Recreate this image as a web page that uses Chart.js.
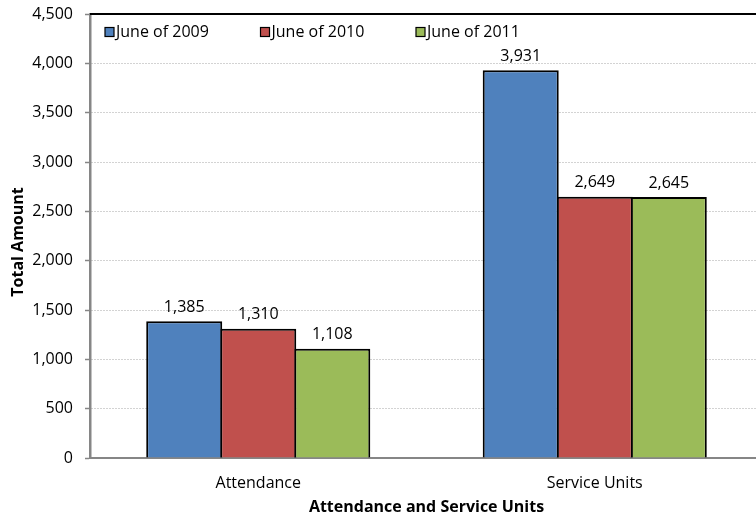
<!DOCTYPE html>
<html>
<head>
<meta charset="utf-8">
<script src="https://cdn.jsdelivr.net/npm/chart.js@4"></script>
<style>
    html, body { margin: 0; padding: 0; overflow: hidden; background: #fff; }
</style>
</head>
<body>
<canvas id="unitsChart" width="763" height="521"></canvas>
<script>
const categories = ['Attendance', 'Service Units'];
const seriesLabels = ['June of 2009', 'June of 2010', 'June of 2011'];
const june2009 = [1385, 3931];
const june2010 = [1310, 2649];
const june2011 = [1108, 2645];
const seriesColors = ['#4F81BD', '#C0504D', '#9BBB59'];
const yTitle = 'Total Amount';

const FONT = 'Open Sans';

// value above each bar
const barValues = {
    id: 'barValues',
    afterDatasetsDraw(chart) {
        const ctx = chart.ctx;
        ctx.save();
        ctx.font = '16px "' + FONT + '"';
        ctx.fillStyle = '#000';
        ctx.textAlign = 'center';
        ctx.textBaseline = 'middle';
        chart.data.datasets.forEach((ds, i) => {
            chart.getDatasetMeta(i).data.forEach((bar, j) => {
                ctx.fillText(ds.data[j].toLocaleString('en-US'), bar.x, bar.y - 14);
            });
        });
        ctx.restore();
    }
};

// top frame line, legend row inside the plot, rotated y title
const frameLegend = {
    id: 'frameLegend',
    afterDraw(chart) {
        const ctx = chart.ctx;
        const area = chart.chartArea;
        ctx.save();
        ctx.strokeStyle = '#000';
        ctx.lineWidth = 2;
        ctx.beginPath();
        ctx.moveTo(area.left, area.top);
        ctx.lineTo(area.right, area.top);
        ctx.stroke();

        ctx.font = '16px "' + FONT + '"';
        ctx.textBaseline = 'middle';
        ctx.textAlign = 'left';
        chart.data.datasets.forEach((ds, i) => {
            const x = area.left + 15 + i * 155.5;
            const y = area.top + 18;
            ctx.fillStyle = ds.backgroundColor;
            ctx.fillRect(x, y - 4.5, 9, 9);
            ctx.lineWidth = 1.2;
            ctx.strokeStyle = '#000';
            ctx.strokeRect(x, y - 4.5, 9, 9);
            ctx.fillStyle = '#000';
            ctx.fillText(ds.label, x + 11, y);
        });

        ctx.translate(18, (area.top + area.bottom) / 2 + 6);
        ctx.rotate(-Math.PI / 2);
        ctx.font = 'bold 16px "' + FONT + '"';
        ctx.textAlign = 'center';
        ctx.fillText(yTitle, 0, 0);
        ctx.restore();
    }
};

const seriesData = [june2009, june2010, june2011];

new Chart(document.getElementById('unitsChart'), {
    type: 'bar',
    data: {
        labels: categories,
        datasets: seriesData.map((vals, i) => ({
            label: seriesLabels[i],
            data: vals,
            backgroundColor: seriesColors[i],
            borderColor: '#000',
            borderWidth: 2,
            barPercentage: 1.027,
            categoryPercentage: 0.66
        }))
    },
    options: {
        responsive: false,
        animation: false,
        layout: { padding: { top: 14, right: 0, left: 0, bottom: 0 } },
        plugins: {
            legend: { display: false },
            tooltip: { enabled: false }
        },
        scales: {
            x: {
                grid: { display: false, drawTicks: false },
                border: { color: '#868686', width: 2 },
                ticks: { color: '#000', padding: 16, font: { family: FONT, size: 16 } },
                title: {
                    display: true,
                    text: 'Attendance and Service Units',
                    color: '#000',
                    font: { family: FONT, size: 16, weight: 'bold' },
                    padding: { top: 0, bottom: 3.5 }
                },
                afterFit(scale) { scale.height = 63; }
            },
            y: {
                min: 0,
                max: 4500,
                ticks: { stepSize: 500, color: '#000', padding: 12, font: { family: FONT, size: 16 } },
                grid: {
                    color: (c) => (c.tick && c.tick.value === 4500) ? 'rgba(0,0,0,0)' : '#a6a6a6',
                    lineWidth: 1,
                    tickColor: '#868686',
                    tickLength: 5,
                    tickWidth: 1.5,
                    tickBorderDash: []
                },
                border: { color: '#868686', width: 2.5, dash: [1, 2] },
                afterFit(scale) {
                    scale.width = 90;
                    scale.paddingTop = 0;
                    scale.paddingBottom = 0;
                }
            }
        }
    },
    plugins: [barValues, frameLegend]
});
</script>
</body>
</html>
